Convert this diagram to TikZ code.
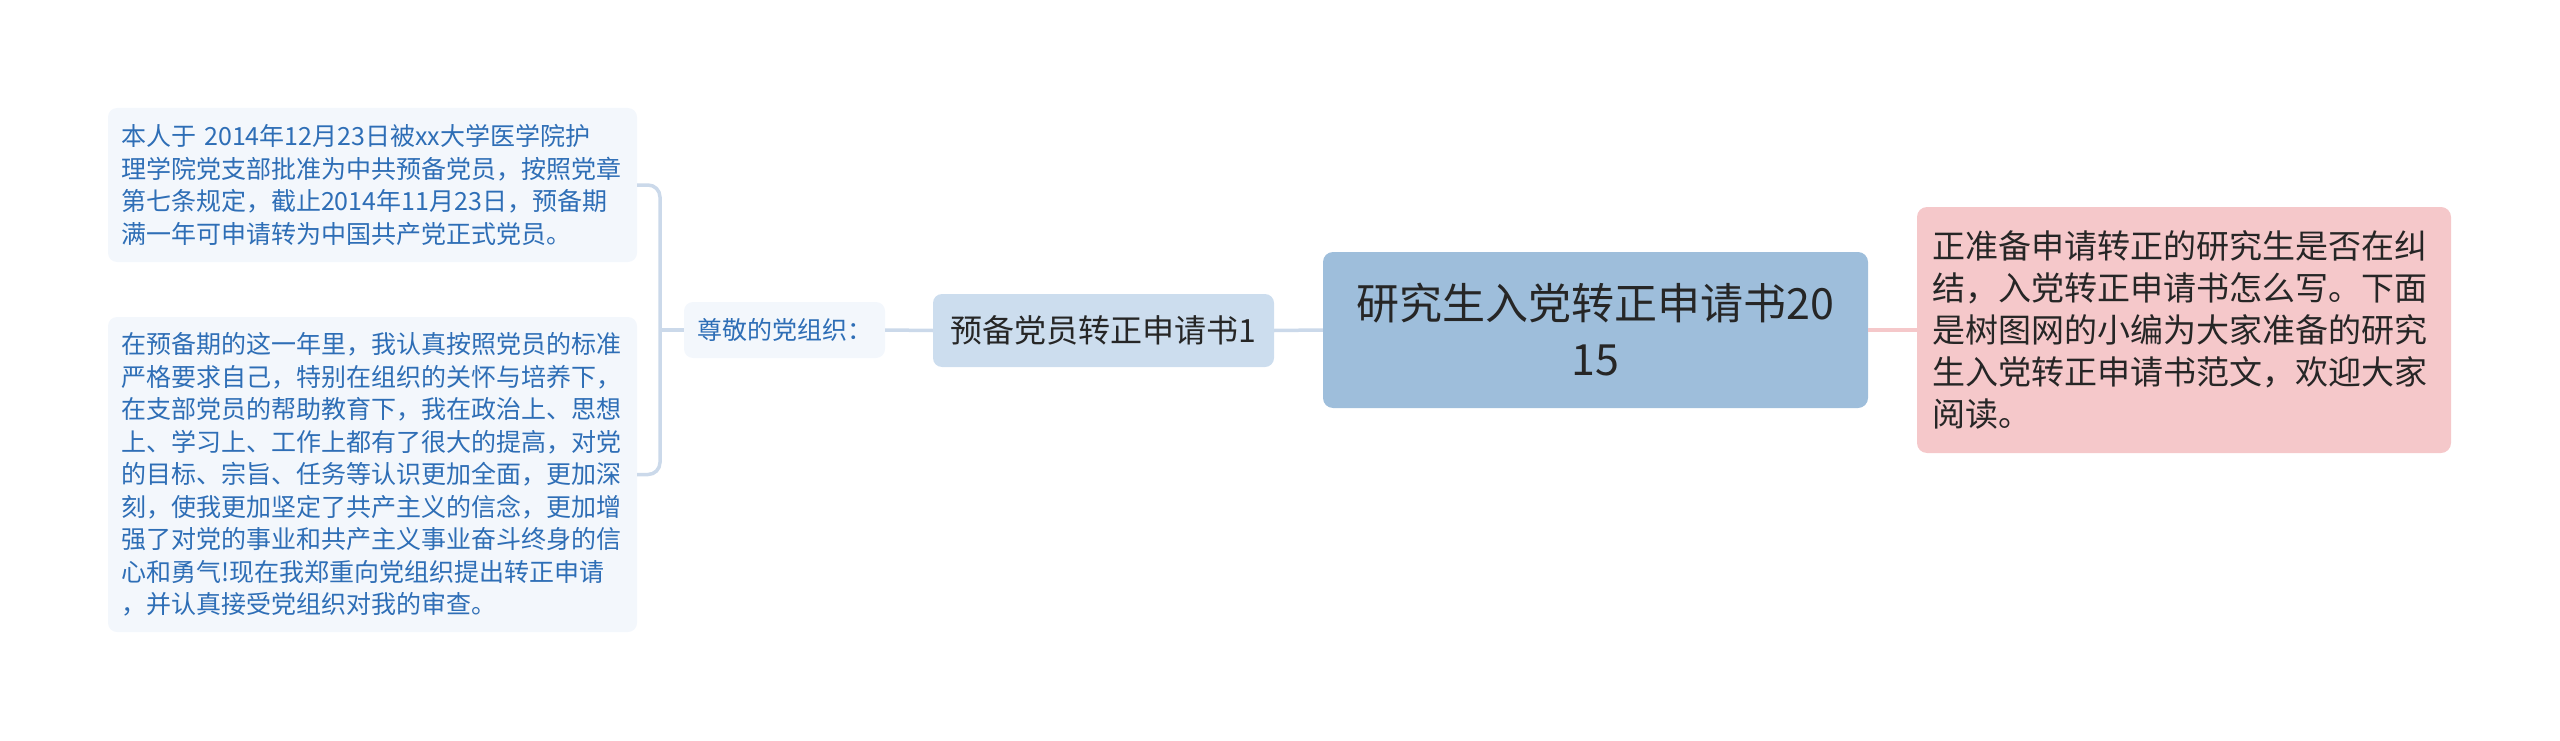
\documentclass[tikz,border=0pt]{standalone}
\usepackage{fontspec}
\setmainfont{Noto Sans CJK SC}
\definecolor{lightfill}{HTML}{F3F7FC}
\definecolor{bluetext}{HTML}{2E6EB6}
\definecolor{connblue}{HTML}{CBD9EA}
\definecolor{midfill}{HTML}{CCDDEE}
\definecolor{rootfill}{HTML}{9EBEDB}
\definecolor{pinkfill}{HTML}{F5C8CA}
\definecolor{darktext}{HTML}{262626}
\begin{document}
\begin{tikzpicture}[x=1pt,y=-1pt,
  smallbox/.style={rounded corners=9pt, fill=lightfill, text=bluetext, inner xsep=13pt, inner ysep=0pt,
    align=left, text width=503pt, font={\fontsize{25}{32.5}\selectfont}},
  labelbox/.style={rounded corners=9pt, fill=lightfill, text=bluetext, inner sep=0pt,
    minimum width=201pt, minimum height=56pt, font={\fontsize{25}{30}\selectfont}},
  midbox/.style={rounded corners=9pt, fill=midfill, text=darktext, inner sep=0pt,
    minimum width=341pt, minimum height=73pt, font={\fontsize{32}{38}\selectfont}},
  rootbox/.style={rounded corners=10pt, fill=rootfill, text=darktext, inner sep=0pt, align=center,
    minimum width=545pt, minimum height=156pt, font={\fontsize{43}{56}\selectfont}},
  pinkbox/.style={rounded corners=10pt, fill=pinkfill, text=darktext, inner xsep=15pt, inner ysep=0pt,
    align=left, text width=504pt, minimum height=246pt, font={\fontsize{33}{42}\selectfont}},
  conn/.style={draw=connblue, line width=3.5pt},
  pinkconn/.style={draw=pinkfill, line width=3.5pt}]
\useasboundingbox (0,0) rectangle (2560,741);

\node[smallbox, minimum height=154pt] (b1) at (372.5,185) {本人于 2014年12月23日被xx大学医学院护\\
理学院党支部批准为中共预备党员，按照党章\\
第七条规定，截止2014年11月23日，预备期\\
满一年可申请转为中国共产党正式党员。};

\node[smallbox, minimum height=315pt] (b2) at (372.5,474.5) {在预备期的这一年里，我认真按照党员的标准\\
严格要求自己，特别在组织的关怀与培养下，\\
在支部党员的帮助教育下，我在政治上、思想\\
上、学习上、工作上都有了很大的提高，对党\\
的目标、宗旨、任务等认识更加全面，更加深\\
刻，使我更加坚定了共产主义的信念，更加增\\
强了对党的事业和共产主义事业奋斗终身的信\\
心和勇气!现在我郑重向党组织提出转正申请\\
，并认真接受党组织对我的审查。};

\node[labelbox] (zj) at (784.5,330) {尊敬的党组织：};
\node[midbox] (yb) at (1103.5,330.5) {预备党员转正申请书1};
\node[rootbox] (root) at (1595.5,330) {研究生入党转正申请书20\\15};
\node[pinkbox] (pk) at (2184,330) {正准备申请转正的研究生是否在纠\\
结，入党转正申请书怎么写。下面\\
是树图网的小编为大家准备的研究\\
生入党转正申请书范文，欢迎大家\\
阅读。};

\coordinate (bx) at (660,330);
\draw[conn, rounded corners=12pt] (b1.east) -| (bx) |- (b2.east);
\draw[conn] (bx) -- (zj.west);
\draw[conn] (zj.east) -- (yb.west);
\draw[conn] (yb.east) -- (root.west);
\draw[pinkconn] (root.east) -- (pk.west);
\end{tikzpicture}
\end{document}
